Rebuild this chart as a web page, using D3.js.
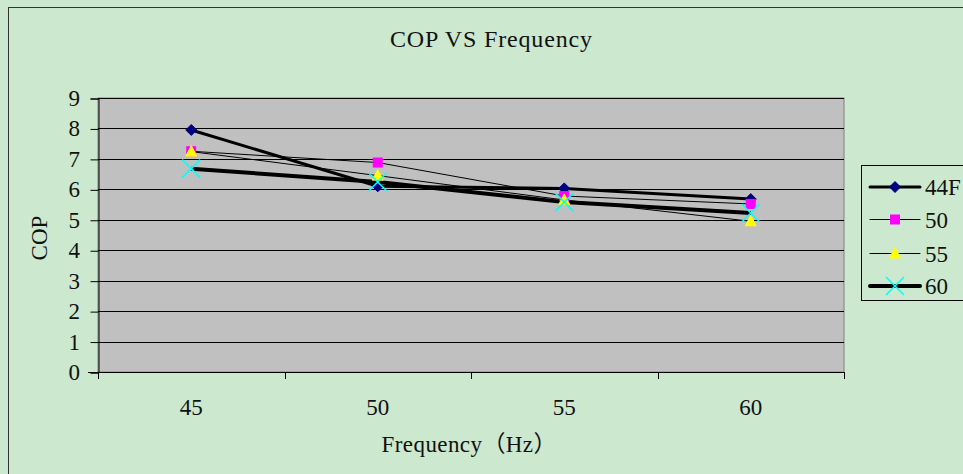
<!DOCTYPE html>
<html>
<head>
<meta charset="utf-8">
<script src="https://cdn.jsdelivr.net/npm/d3@7"></script>
<style>
  body { margin: 0; background: #CCE8CF; }
  svg { display: block; }
</style>
</head>
<body>
<svg id="grafico" width="963" height="474"></svg>
<script>
// dados
const frequencias = ["45", "50", "55", "60"];
const ticksY = [0, 1, 2, 3, 4, 5, 6, 7, 8, 9];
const nomesSeries = ["44F", "50", "55", "60"];
const cop44F = [7.95, 6.10, 6.03, 5.68];
const cop50 = [7.25, 6.88, 5.78, 5.52];
const cop55 = [7.24, 6.45, 5.65, 4.95];
const cop60 = [6.68, 6.24, 5.58, 5.22];

const fonte = "'Liberation Serif', 'Noto Sans CJK SC', serif";

const series = [
  { nome: nomesSeries[0], valores: cop44F, largura: 3, marcador: "losango", cor: "#000080" },
  { nome: nomesSeries[1], valores: cop50, largura: 1, marcador: "quadrado", cor: "#FF00FF" },
  { nome: nomesSeries[2], valores: cop55, largura: 1, marcador: "triangulo", cor: "#FFFF00" },
  { nome: nomesSeries[3], valores: cop60, largura: 4, marcador: "xis", cor: "#00FFFF" }
];

const svg = d3.select("#grafico");
const area = { esquerda: 98, direita: 844, topo: 98, base: 372 };

// moldura externa
svg.append("rect").attr("x", 8.5).attr("y", 7.5).attr("width", 1000).attr("height", 500)
  .attr("fill", "#CCE8CF").attr("stroke", "#333").attr("stroke-width", 1);

// escalas
const eixoX = d3.scaleBand().domain(frequencias).range([area.esquerda, area.direita]);
const eixoY = d3.scaleLinear().domain([0, 9]).range([area.base, area.topo]);

// fundo cinza da área de plotagem
svg.append("rect")
  .attr("x", area.esquerda).attr("y", area.topo)
  .attr("width", area.direita - area.esquerda).attr("height", area.base - area.topo)
  .attr("fill", "#C0C0C0").attr("stroke", "#808080");

// linhas de grade
svg.append("g").selectAll("line").data(ticksY).join("line")
  .attr("x1", area.esquerda).attr("x2", area.direita)
  .attr("y1", d => Math.round(eixoY(d)) + 0.5).attr("y2", d => Math.round(eixoY(d)) + 0.5)
  .attr("stroke", "#000").attr("stroke-width", 1);

function texto(x, y, conteudo, tamanho, ancora, girar) {
  return svg.append("text")
    .attr("transform", `translate(${x},${y})${girar ? " rotate(-90)" : ""}`)
    .attr("text-anchor", ancora)
    .attr("font-family", fonte)
    .attr("font-size", tamanho)
    .attr("fill", "#111")
    .text(conteudo);
}

// eixo Y
const gY = svg.append("g").attr("transform", `translate(${area.esquerda + 0.5},0.5)`)
  .call(d3.axisLeft(eixoY).tickValues(ticksY).tickSize(8).tickFormat(""));
gY.selectAll("line, path").attr("stroke", "#000");
ticksY.forEach(v => {
  texto(80, eixoY(v) + 8, v, 23, "end");
});

// eixo X com marcas entre as categorias
svg.append("line")
  .attr("x1", area.esquerda - 10).attr("x2", area.direita)
  .attr("y1", area.base + 0.5).attr("y2", area.base + 0.5)
  .attr("stroke", "#000");
const limites = frequencias.map(f => eixoX(f)).concat([eixoX(frequencias[3]) + eixoX.bandwidth()]);
svg.append("g").selectAll("line").data(limites).join("line")
  .attr("x1", d => Math.round(d) + 0.5).attr("x2", d => Math.round(d) + 0.5)
  .attr("y1", area.base).attr("y2", area.base + 7)
  .attr("stroke", "#000");
frequencias.forEach(f => {
  texto(eixoX(f) + eixoX.bandwidth() / 2, 415, f, 23, "middle");
});

// títulos
texto(491, 47, "COP VS Frequency", 24, "middle")
  .attr("textLength", 202).attr("lengthAdjust", "spacing");
texto(469, 452, "Frequency（Hz）", 23, "middle")
  .attr("textLength", 175).attr("lengthAdjust", "spacing");
texto(47, 238, "COP", 23, "middle", true);

// desenho dos marcadores
function marcador(g, tipo, cor, x, y) {
  if (tipo === "losango") {
    g.append("path").attr("d", `M${x},${y - 5.5}L${x + 5.5},${y}L${x},${y + 5.5}L${x - 5.5},${y}Z`)
      .attr("fill", cor).attr("stroke", cor);
  } else if (tipo === "quadrado") {
    g.append("rect").attr("x", x - 4.5).attr("y", y - 4.5).attr("width", 9).attr("height", 9)
      .attr("fill", cor).attr("stroke", cor);
  } else if (tipo === "triangulo") {
    g.append("path").attr("d", `M${x},${y - 6}L${x + 5.5},${y + 4.5}L${x - 5.5},${y + 4.5}Z`)
      .attr("fill", cor).attr("stroke", cor);
  } else {
    g.append("path").attr("d", `M${x - 9},${y - 9}L${x + 9},${y + 9}M${x - 9},${y + 9}L${x + 9},${y - 9}`)
      .attr("fill", "none").attr("stroke", cor).attr("stroke-width", 1.5);
  }
}

// linhas das séries
const linha = d3.line()
  .x((d, i) => eixoX(frequencias[i]) + eixoX.bandwidth() / 2)
  .y(d => eixoY(d));
series.forEach(s => {
  svg.append("path").datum(s.valores)
    .attr("d", linha)
    .attr("fill", "none")
    .attr("stroke", "#000")
    .attr("stroke-width", s.largura)
    .attr("stroke-linejoin", "round");
});
series.forEach(s => {
  const g = svg.append("g");
  s.valores.forEach((v, i) => {
    marcador(g, s.marcador, s.cor, eixoX(frequencias[i]) + eixoX.bandwidth() / 2, eixoY(v));
  });
});

// legenda
const legenda = svg.append("g");
legenda.append("rect").attr("x", 861.5).attr("y", 165.5).attr("width", 200).attr("height", 135)
  .attr("fill", "#CCE8CF").attr("stroke", "#000");
const linhasLegenda = [187, 219.5, 253.5, 286];
series.forEach((s, i) => {
  const y = linhasLegenda[i];
  legenda.append("line").attr("x1", 870).attr("x2", 920).attr("y1", y).attr("y2", y)
    .attr("stroke", "#000").attr("stroke-width", s.largura).attr("stroke-linecap", "round");
  marcador(legenda, s.marcador, s.cor, 895, y);
  texto(925, y + 8, s.nome, 23, "start");
});
</script>
</body>
</html>
